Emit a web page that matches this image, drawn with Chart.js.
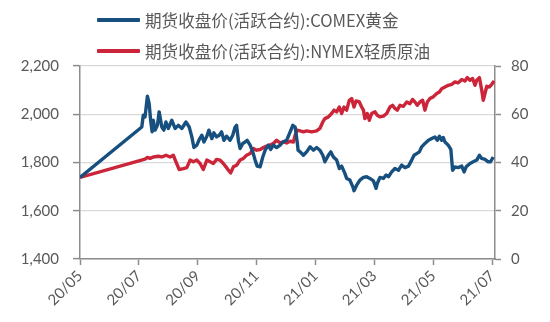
<!DOCTYPE html>
<html><head><meta charset="utf-8">
<script src="https://cdn.jsdelivr.net/npm/chart.js@4/dist/chart.umd.min.js"></script>
<style>
html,body{margin:0;padding:0;background:#fff;}
#wrap{position:relative;width:550px;height:322px;}
.lg{position:absolute;left:97px;height:24px;display:flex;align-items:center;font-family:"Noto Sans CJK SC",sans-serif;font-size:16.6px;color:#595959;white-space:nowrap;}
.lg span.ln{display:inline-block;width:43px;height:4px;border-radius:1px;margin-right:5px;}
</style></head>
<body><div id="wrap">
<canvas id="c" width="550" height="322"></canvas>
<div class="lg" id="lg0" style="top:8px"><span class="ln"></span><span class="tx"></span></div>
<div class="lg" id="lg1" style="top:39px"><span class="ln"></span><span class="tx"></span></div>
</div>
<script>
const seriesNames = ["期货收盘价(活跃合约):COMEX黄金", "期货收盘价(活跃合约):NYMEX轻质原油"];
const xTickLabels = ["20/05","20/07","20/09","20/11","21/01","21/03","21/05","21/07"];
// x in months since 2020-05
const goldX = [0,2.10,2.15,2.21,2.29,2.35,2.40,2.45,2.49,2.55,
2.63,2.69,2.78,2.85,2.92,3.00,3.12,3.23,3.34,3.46,
3.60,3.71,3.80,3.87,3.97,4.05,4.14,4.21,4.31,4.38,
4.48,4.55,4.64,4.73,4.81,4.89,4.98,5.10,5.19,5.27,
5.32,5.38,5.44,5.53,5.61,5.68,5.78,5.87,5.95,6.02,
6.12,6.21,6.29,6.40,6.48,6.57,6.68,6.80,6.89,7.02,
7.14,7.23,7.31,7.38,7.41,7.48,7.59,7.70,7.82,7.93,
8.04,8.15,8.25,8.32,8.44,8.52,8.61,8.72,8.81,8.89,
9.00,9.06,9.17,9.27,9.31,9.40,9.51,9.63,9.74,9.85,
9.97,10.06,10.10,10.19,10.31,10.40,10.48,10.59,10.70,10.82,
10.93,11.04,11.16,11.27,11.35,11.44,11.53,11.61,11.72,11.84,
11.95,12.06,12.14,12.21,12.29,12.34,12.40,12.51,12.60,12.63,
12.66,12.74,12.85,12.97,13.05,13.12,13.25,13.36,13.48,13.57,
13.65,13.76,13.87,13.95,14.04];
const goldValues = [1738,1947,1996,1989,2075,2044,1975,1927,1975,1934,
1954,2010,1947,1934,1968,1941,1975,1941,1954,1941,
1968,1947,1906,1862,1872,1895,1913,1885,1909,1934,
1899,1923,1906,1913,1927,1892,1909,1892,1913,1947,
1954,1892,1858,1879,1885,1892,1872,1844,1810,1785,
1782,1823,1851,1872,1854,1872,1862,1872,1885,1892,
1927,1954,1947,1885,1851,1844,1830,1844,1865,1851,
1862,1851,1830,1803,1830,1844,1823,1810,1775,1785,
1755,1734,1727,1699,1683,1706,1727,1738,1741,1734,
1724,1693,1713,1738,1734,1748,1741,1761,1775,1768,
1789,1779,1785,1810,1830,1837,1844,1865,1879,1892,
1899,1906,1892,1909,1892,1904,1885,1872,1854,1810,
1768,1782,1779,1785,1761,1782,1796,1803,1810,1830,
1817,1813,1803,1803,1823];
const oilX = [0,2.21,2.29,2.38,2.49,2.66,2.78,2.92,3.06,3.17,
3.26,3.37,3.51,3.63,3.74,3.85,3.97,4.08,4.19,4.31,
4.42,4.53,4.64,4.76,4.87,4.96,5.04,5.12,5.21,5.32,
5.44,5.55,5.66,5.78,5.89,6.00,6.12,6.23,6.34,6.46,
6.57,6.68,6.80,6.91,7.02,7.14,7.25,7.31,7.38,7.48,
7.59,7.70,7.87,8.04,8.15,8.25,8.32,8.44,8.55,8.63,
8.72,8.81,8.89,8.97,9.06,9.15,9.23,9.31,9.38,9.49,
9.57,9.63,9.68,9.76,9.83,9.91,10.02,10.10,10.19,10.31,
10.42,10.53,10.62,10.70,10.78,10.87,10.99,11.10,11.21,11.30,
11.38,11.46,11.55,11.64,11.72,11.80,11.89,12.00,12.12,12.21,
12.29,12.40,12.51,12.63,12.74,12.85,12.97,13.08,13.16,13.25,
13.34,13.42,13.48,13.57,13.65,13.70,13.76,13.82,13.91,13.99,14.07];
const oilValues = [33.8,41.4,42.1,41.7,42.3,42.6,42.3,43.0,42.3,43.0,
40.3,37.1,37.5,37.9,41.0,40.3,41.0,39.6,37.1,41.0,
40.3,39.6,41.3,41.0,39.6,38.2,36.8,35.7,38.2,38.9,
41.0,41.7,43.0,43.7,45.8,45.1,45.4,46.2,46.8,47.2,
47.9,49.2,48.1,48.5,48.1,48.8,48.5,51.3,53.4,53.1,
52.7,53.1,52.7,53.1,54.1,56.8,58.2,58.9,60.3,61.7,
61.0,63.0,60.3,63.0,61.7,65.8,66.5,63.0,65.5,65.1,
63.0,61.7,58.2,60.3,57.5,60.3,61.0,59.6,58.9,59.2,
60.3,63.0,63.7,62.4,61.7,63.7,63.3,65.1,64.4,66.1,
65.1,63.7,65.1,65.8,61.7,65.1,66.5,67.2,68.6,69.2,
70.6,71.3,72.0,72.4,73.4,73.0,74.4,73.8,75.2,74.1,
74.8,72.0,74.1,75.2,69.9,65.8,68.6,71.6,71.3,72.4,73.8];
const leftTicks = [1400,1600,1800,2000,2200];
const rightTicks = [0,20,40,60,80];

const colors = ['#17507f', '#cc2438'];
const axisColor = '#8c8c8c', gridColor = '#d9d9d9', textColor = '#595959';
const numFont = {family: 'Lato, "Noto Sans", sans-serif', size: 15};

seriesNames.forEach((n, i) => {
  const el = document.getElementById('lg' + i);
  el.querySelector('.ln').style.background = colors[i];
  el.querySelector('.tx').textContent = n;
});

new Chart(document.getElementById('c'), {
  type: 'line',
  data: {
    datasets: [
      {label: seriesNames[0], data: goldX.map((x, i) => ({x, y: goldValues[i]})), yAxisID: 'y',
       borderColor: colors[0], backgroundColor: colors[0], borderWidth: 3.4, pointRadius: 0, tension: 0, borderJoinStyle: 'round'},
      {label: seriesNames[1], data: oilX.map((x, i) => ({x, y: oilValues[i]})), yAxisID: 'y1',
       borderColor: colors[1], backgroundColor: colors[1], borderWidth: 3.4, pointRadius: 0, tension: 0, borderJoinStyle: 'round'}
    ]
  },
  options: {
    responsive: false, animation: false,
    layout: {padding: {top: 66, left: 0, right: 0, bottom: 0}},
    plugins: {legend: {display: false}, tooltip: {enabled: false}},
    scales: {
      x: {
        type: 'linear', min: 0, max: 14.1,
        afterFit: s => { s.height = 63; },
        afterBuildTicks: s => { s.ticks = xTickLabels.map((l, i) => ({value: i * 2})); },
        ticks: {autoSkip: false, maxRotation: 45, minRotation: 45, color: textColor, font: numFont, padding: 2,
                callback: v => xTickLabels[Math.round(v / 2)]},
        grid: {drawOnChartArea: false, drawTicks: true, tickLength: 6, tickColor: axisColor, tickWidth: 1.5},
        border: {color: axisColor, width: 1.5}
      },
      y: {
        position: 'left', min: 1400, max: 2200,
        afterFit: s => { s.width = 80; },
        afterBuildTicks: s => { s.ticks = leftTicks.map(v => ({value: v})); },
        ticks: {color: textColor, font: numFont, padding: 14, callback: v => v.toLocaleString('en-US')},
        grid: {color: gridColor, lineWidth: 1.2, tickColor: axisColor, tickLength: 7, tickWidth: 1.5},
        border: {color: axisColor, width: 1.5}
      },
      y1: {
        position: 'right', min: 0, max: 80,
        afterFit: s => { s.width = 55; },
        afterBuildTicks: s => { s.ticks = rightTicks.map(v => ({value: v})); },
        ticks: {color: textColor, font: numFont, padding: 10},
        grid: {drawOnChartArea: false, tickColor: axisColor, tickLength: 6, tickWidth: 1.5},
        border: {color: axisColor, width: 1.5}
      }
    }
  }
});
</script>
</body></html>
